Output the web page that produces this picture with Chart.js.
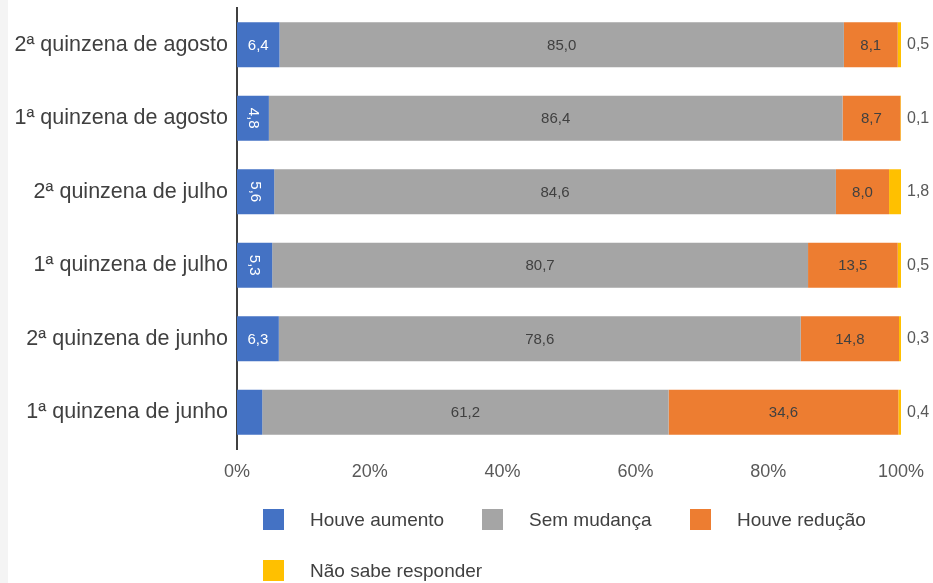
<!DOCTYPE html>
<html>
<head>
<meta charset="utf-8">
<script src="https://cdn.jsdelivr.net/npm/chart.js@4"></script>
<style>
html,body{margin:0;padding:0;background:#fff;}
#wrap{position:relative;width:933px;height:583px;overflow:hidden;font-family:Arial,"Liberation Sans",sans-serif;background:#fff;}
#strip{position:absolute;left:0;top:0;width:8px;height:583px;background:#f4f4f4;}
#c{position:absolute;left:0;top:0;}
.lg{position:absolute;height:21px;display:flex;align-items:center;font-size:19px;color:#404040;white-space:nowrap;}
.lg .bx{width:21px;height:21px;margin-right:26px;flex:none;}
</style>
</head>
<body>
<div id="wrap">
  <div id="strip"></div>
  <canvas id="c" width="933" height="583"></canvas>
  <div id="legend"></div>
</div>
<script>
const categories = ["2ª quinzena de agosto", "1ª quinzena de agosto", "2ª quinzena de julho", "1ª quinzena de julho", "2ª quinzena de junho", "1ª quinzena de junho"];
const seriesNames = ["Houve aumento", "Sem mudança", "Houve redução", "Não sabe responder"];
const houveAumento = [6.4, 4.8, 5.6, 5.3, 6.3, 3.8];
const semMudanca = [85.0, 86.4, 84.6, 80.7, 78.6, 61.2];
const houveReducao = [8.1, 8.7, 8.0, 13.5, 14.8, 34.6];
const naoSabeResponder = [0.5, 0.1, 1.8, 0.5, 0.3, 0.4];
const xTicks = [0, 20, 40, 60, 80, 100];

const seriesColors = ["#4472C4", "#A5A5A5", "#ED7D31", "#FFC000"];
const labelColors = ["#ffffff", "#404040", "#404040", "#595959"];
const seriesValues = [houveAumento, semMudanca, houveReducao, naoSabeResponder];

const fmt = v => v.toFixed(1).replace('.', ',');
const FONT = 'Arial, "Liberation Sans", sans-serif';

const labelPlugin = {
  id: 'barLabels',
  afterDatasetsDraw(chart) {
    const ctx = chart.ctx;
    chart.data.datasets.forEach((ds, di) => {
      const meta = chart.getDatasetMeta(di);
      meta.data.forEach((el, i) => {
        const v = ds.data[i];
        const txt = fmt(v);
        ctx.save();
        if (di === 3) {
          ctx.font = '16px ' + FONT;
          ctx.fillStyle = labelColors[di];
          ctx.textAlign = 'left';
          ctx.textBaseline = 'middle';
          ctx.fillText(txt, el.x + 6, el.y);
        } else {
          ctx.font = '15px ' + FONT;
          ctx.fillStyle = labelColors[di];
          ctx.textAlign = 'center';
          ctx.textBaseline = 'middle';
          const w = el.x - el.base;
          const tw = ctx.measureText(txt).width;
          const cx = (el.x + el.base) / 2;
          if (w < 30) { ctx.restore(); return; }
          if (w < tw + 20) {
            ctx.translate(cx, el.y);
            ctx.rotate(Math.PI / 2);
            ctx.fillText(txt, 0, 0);
          } else {
            ctx.fillText(txt, cx, el.y + 1);
          }
        }
        ctx.restore();
      });
    });
  }
};

const chart = new Chart(document.getElementById('c'), {
  type: 'bar',
  data: {
    labels: categories,
    datasets: seriesNames.map((n, k) => ({
      label: n,
      data: seriesValues[k],
      backgroundColor: seriesColors[k],
      borderWidth: 0,
      barPercentage: 0.612,
      categoryPercentage: 1.0
    }))
  },
  options: {
    indexAxis: 'y',
    responsive: false,
    animation: false,
    layout: { padding: { left: 0, top: 8, right: 32, bottom: 104 } },
    plugins: { legend: { display: false }, tooltip: { enabled: false } },
    scales: {
      x: {
        stacked: true,
        min: xTicks[0],
        max: xTicks[xTicks.length - 1],
        afterBuildTicks: s => { s.ticks = xTicks.map(v => ({ value: v })); },
        ticks: { callback: v => v + '%', font: { size: 18, family: FONT }, color: '#595959', padding: 12, maxRotation: 0 },
        grid: { display: false, drawTicks: false },
        border: { display: false },
        afterFit: s => { s.height = 30; s.paddingLeft = 0; s.paddingRight = 0; }
      },
      y: {
        stacked: true,
        ticks: { font: { size: 21.5, family: FONT }, color: '#404040', padding: 9 },
        grid: { display: false, drawTicks: false },
        border: { display: true, color: '#404040', width: 2 },
        afterFit: s => { s.width = 237; s.paddingTop = 0; s.paddingBottom = 0; }
      }
    }
  },
  plugins: [labelPlugin]
});

// HTML legend built from series arrays
const legendPos = [
  { left: 263, top: 509 },
  { left: 482, top: 509 },
  { left: 690, top: 509 },
  { left: 263, top: 560 }
];
const lg = document.getElementById('legend');
seriesNames.forEach((n, k) => {
  const d = document.createElement('div');
  d.className = 'lg';
  d.style.left = legendPos[k].left + 'px';
  d.style.top = legendPos[k].top + 'px';
  const b = document.createElement('span');
  b.className = 'bx';
  b.style.background = seriesColors[k];
  const t = document.createElement('span');
  t.textContent = n;
  d.appendChild(b);
  d.appendChild(t);
  lg.appendChild(d);
});
</script>
</body>
</html>
